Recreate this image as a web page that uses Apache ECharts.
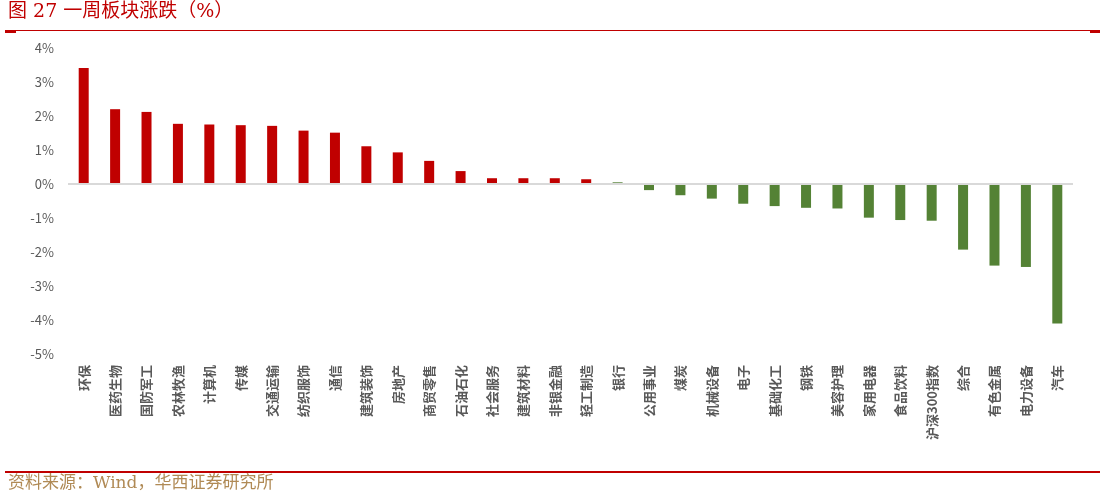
<!DOCTYPE html>
<html>
<head>
<meta charset="utf-8">
<script src="https://cdn.jsdelivr.net/npm/echarts@6/dist/echarts.min.js"></script>
<style>
html,body{margin:0;padding:0;background:#fff;}
#chart{width:1105px;height:499px;}
</style>
</head>
<body>
<div id="chart"></div>
<script>
const categories = ['环保','医药生物','国防军工','农林牧渔','计算机','传媒','交通运输','纺织服饰','通信','建筑装饰','房地产','商贸零售','石油石化','社会服务','建筑材料','非银金融','轻工制造','银行','公用事业','煤炭','机械设备','电子','基础化工','钢铁','美容护理','家用电器','食品饮料','沪深300指数','综合','有色金属','电力设备','汽车'];
const values = [3.41,2.20,2.12,1.77,1.75,1.73,1.71,1.57,1.51,1.11,0.93,0.68,0.38,0.17,0.17,0.17,0.14,0.05,-0.18,-0.33,-0.43,-0.58,-0.65,-0.70,-0.72,-0.99,-1.06,-1.08,-1.93,-2.40,-2.44,-4.10];
const yTicks = [-5,-4,-3,-2,-1,0,1,2,3,4];
const titleText = '图 27 一周板块涨跌（%）';
const sourceText = '资料来源：Wind，华西证券研究所';

const RED = '#C00000', GREEN = '#548235';
const chart = echarts.init(document.getElementById('chart'));
chart.setOption({
  animation: false,
  backgroundColor: '#fff',
  grid: {left: 68, right: 32, top: 48, bottom: 145},
  xAxis: {
    type: 'category',
    data: categories,
    position: 'bottom',
    axisLine: {show: false, onZero: false},
    axisTick: {show: false},
    axisLabel: {
      rotate: 90, interval: 0, margin: 11,
      color: '#595959', fontSize: 13, fontWeight: 'bold',
      fontFamily: '"Noto Sans CJK SC", sans-serif'
    }
  },
  yAxis: {
    type: 'value',
    min: yTicks[0], max: yTicks[yTicks.length - 1], interval: 1,
    axisLine: {show: false},
    axisTick: {show: false},
    splitLine: {show: false},
    axisLabel: {
      formatter: v => v + '%', color: '#595959', fontSize: 13, margin: 14,
      fontFamily: '"Noto Sans CJK SC", sans-serif'
    }
  },
  series: [{
    type: 'bar',
    barWidth: 10,
    data: values.map((v, i) => ({
      value: v,
      itemStyle: {color: i < 17 ? RED : GREEN}
    })),
    markLine: {
      silent: true, symbol: 'none', label: {show: false},
      lineStyle: {color: '#d9d9d9', width: 2, type: 'solid'},
      data: [{yAxis: 0}]
    },
    z: 3
  }],
  graphic: [
    {type: 'text', left: 8, top: 3, style: {text: titleText, fill: RED, fontSize: 19, fontFamily: '"DejaVu Serif", "Noto Sans CJK SC", serif'}},
    {type: 'rect', shape: {x: 5, y: 30, width: 1095, height: 1}, style: {fill: RED}},
    {type: 'rect', shape: {x: 5, y: 30, width: 11, height: 3}, style: {fill: RED}},
    {type: 'rect', shape: {x: 1090, y: 30, width: 10, height: 3}, style: {fill: RED}},
    {type: 'rect', shape: {x: 5, y: 471, width: 1095, height: 2}, style: {fill: RED}},
    {type: 'text', left: 8, top: 475, style: {text: sourceText, fill: '#B08A55', fontSize: 17, fontFamily: '"DejaVu Serif", "Noto Sans CJK SC", serif'}}
  ]
});
</script>
</body>
</html>
